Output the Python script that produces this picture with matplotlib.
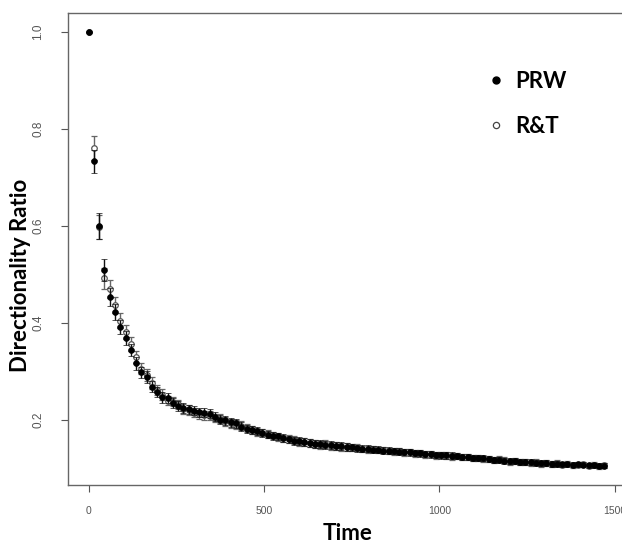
import matplotlib
matplotlib.use("Agg")
import matplotlib.pyplot as plt
from matplotlib.lines import Line2D

times = [0, 15, 30, 45, 60, 75, 90, 105, 120, 135,
         150, 165, 180, 195, 210, 225, 240, 255, 270, 285,
         300, 315, 330, 345, 360, 375, 390, 405, 420, 435,
         450, 465, 480, 495, 510, 525, 540, 555, 570, 585,
         600, 615, 630, 645, 660, 675, 690, 705, 720, 735,
         750, 765, 780, 795, 810, 825, 840, 855, 870, 885,
         900, 915, 930, 945, 960, 975, 990, 1005, 1020, 1035,
         1050, 1065, 1080, 1095, 1110, 1125, 1140, 1155, 1170, 1185,
         1200, 1215, 1230, 1245, 1260, 1275, 1290, 1305, 1320, 1335,
         1350, 1365, 1380, 1395, 1410, 1425, 1440, 1455, 1470]

prw = [1.000, 0.733, 0.600, 0.509, 0.454, 0.423, 0.392, 0.369, 0.344, 0.317,
       0.298, 0.288, 0.269, 0.258, 0.247, 0.246, 0.235, 0.229, 0.225, 0.222,
       0.219, 0.216, 0.215, 0.213, 0.207, 0.201, 0.199, 0.195, 0.193, 0.186,
       0.182, 0.179, 0.177, 0.173, 0.170, 0.167, 0.166, 0.163, 0.160, 0.157,
       0.156, 0.155, 0.152, 0.151, 0.151, 0.149, 0.148, 0.147, 0.146, 0.144,
       0.144, 0.142, 0.141, 0.141, 0.139, 0.139, 0.137, 0.137, 0.136, 0.135,
       0.134, 0.133, 0.132, 0.131, 0.130, 0.129, 0.128, 0.127, 0.127, 0.126,
       0.125, 0.124, 0.123, 0.122, 0.121, 0.121, 0.119, 0.118, 0.118, 0.116,
       0.115, 0.115, 0.114, 0.113, 0.113, 0.112, 0.111, 0.111, 0.110, 0.110,
       0.109, 0.109, 0.108, 0.109, 0.108, 0.107, 0.107, 0.106, 0.106]

prw_err = [0.000, 0.024, 0.026, 0.022, 0.018, 0.016, 0.015, 0.014, 0.013, 0.013,
           0.012, 0.012, 0.011, 0.011, 0.011, 0.010, 0.010, 0.010, 0.010, 0.009,
           0.009, 0.009, 0.009, 0.009, 0.009, 0.009, 0.009, 0.009, 0.009, 0.009,
           0.008, 0.008, 0.008, 0.008, 0.008, 0.008, 0.008, 0.008, 0.008, 0.008,
           0.008, 0.008, 0.008, 0.008, 0.008, 0.008, 0.008, 0.008, 0.008, 0.008,
           0.007, 0.007, 0.007, 0.007, 0.007, 0.007, 0.007, 0.007, 0.007, 0.007,
           0.007, 0.007, 0.007, 0.007, 0.007, 0.007, 0.007, 0.007, 0.007, 0.007,
           0.006, 0.006, 0.006, 0.006, 0.006, 0.006, 0.006, 0.006, 0.006, 0.006,
           0.006, 0.006, 0.006, 0.006, 0.006, 0.006, 0.006, 0.006, 0.006, 0.006,
           0.005, 0.005, 0.005, 0.005, 0.005, 0.005, 0.005, 0.005, 0.005]

rt = [1.000, 0.761, 0.598, 0.492, 0.470, 0.437, 0.405, 0.381, 0.357, 0.330,
      0.306, 0.293, 0.276, 0.262, 0.252, 0.240, 0.238, 0.232, 0.223, 0.220,
      0.215, 0.212, 0.210, 0.209, 0.204, 0.203, 0.197, 0.193, 0.190, 0.188,
      0.184, 0.180, 0.175, 0.174, 0.171, 0.168, 0.165, 0.162, 0.161, 0.158,
      0.155, 0.154, 0.153, 0.150, 0.149, 0.150, 0.147, 0.146, 0.144, 0.145,
      0.143, 0.143, 0.140, 0.139, 0.140, 0.138, 0.138, 0.136, 0.135, 0.136,
      0.133, 0.134, 0.131, 0.132, 0.129, 0.130, 0.127, 0.128, 0.126, 0.125,
      0.126, 0.123, 0.124, 0.121, 0.122, 0.120, 0.120, 0.117, 0.119, 0.117,
      0.114, 0.116, 0.113, 0.114, 0.112, 0.113, 0.110, 0.112, 0.109, 0.111,
      0.108, 0.110, 0.107, 0.108, 0.109, 0.106, 0.108, 0.105, 0.107]

rt_err = [0.000, 0.025, 0.024, 0.022, 0.019, 0.017, 0.015, 0.014, 0.014, 0.013,
          0.012, 0.012, 0.012, 0.011, 0.011, 0.010, 0.010, 0.010, 0.010, 0.010,
          0.009, 0.009, 0.009, 0.009, 0.009, 0.009, 0.009, 0.009, 0.009, 0.009,
          0.008, 0.008, 0.008, 0.008, 0.008, 0.008, 0.008, 0.008, 0.008, 0.008,
          0.008, 0.008, 0.008, 0.008, 0.008, 0.008, 0.008, 0.008, 0.008, 0.008,
          0.007, 0.007, 0.007, 0.007, 0.007, 0.007, 0.007, 0.007, 0.007, 0.007,
          0.007, 0.007, 0.007, 0.007, 0.007, 0.007, 0.007, 0.007, 0.007, 0.007,
          0.006, 0.006, 0.006, 0.006, 0.006, 0.006, 0.006, 0.006, 0.006, 0.006,
          0.006, 0.006, 0.006, 0.006, 0.006, 0.006, 0.006, 0.006, 0.006, 0.006,
          0.005, 0.005, 0.005, 0.005, 0.005, 0.005, 0.005, 0.005, 0.005]

x_ticks = [0, 500, 1000, 1500]
y_ticks = [0.2, 0.4, 0.6, 0.8, 1.0]
x_label = "Time"
y_label = "Directionality Ratio"
series_names = ["PRW", "R&T"]

fig = plt.figure(figsize=(6.22, 5.48), dpi=100)
ax = fig.add_axes([68 / 622, 1 - 485 / 548, (625 - 68) / 622, (485 - 13) / 548])

# R&T: open circles, grey error bars
ax.errorbar(times, rt, yerr=rt_err, fmt='o', ms=4.0, mfc='white', mec='#555555',
            mew=0.9, ecolor='#666666', elinewidth=1.0, capsize=2.2, capthick=1.0,
            zorder=2)
# PRW: filled black circles, black error bars
ax.errorbar(times, prw, yerr=prw_err, fmt='o', ms=4.2, mfc='black', mec='black',
            mew=0.5, ecolor='#111111', elinewidth=1.0, capsize=2.2, capthick=1.0,
            zorder=3)

ax.set_xlim(-59, 1529)
ax.set_ylim(0.066, 1.039)
ax.set_xticks(x_ticks)
ax.set_yticks(y_ticks)
ax.set_xticklabels([str(v) for v in x_ticks], fontsize=7.5, color='#555555',
                   family='Liberation Sans')
ax.set_yticklabels([f"{v:.1f}" for v in y_ticks], fontsize=8.5, color='#555555',
                   family='Liberation Sans', rotation=90, va='center')
ax.tick_params(axis='both', direction='out', length=5, width=0.8, color='#555555')
ax.tick_params(axis='x', pad=10)
ax.tick_params(axis='y', pad=12)
for sp in ax.spines.values():
    sp.set_color('#666666')
    sp.set_linewidth(1.0)

ax.set_xlabel(x_label, fontsize=16, fontweight='bold', family='Lato')
ax.xaxis.set_label_coords((348 - 68) / 557, -(523 - 485) / 472)
ax.set_ylabel(y_label, fontsize=16, fontweight='bold', family='Lato')
ax.yaxis.set_label_coords(-(68 - 31) / 557, (485 - 275) / 472)

handles = [Line2D([], [], ls='none', marker='o', ms=5, mfc='black', mec='black'),
           Line2D([], [], ls='none', marker='o', ms=4.5, mfc='white', mec='#444444', mew=0.9)]
ax.legend(handles, series_names, loc='upper left', bbox_to_anchor=(0.72, 0.92),
          frameon=False, prop={'family': 'Lato', 'weight': 'bold', 'size': 16},
          handlelength=0.6, handletextpad=0.6, labelspacing=1.1)

fig.savefig("out.png", dpi=100)
